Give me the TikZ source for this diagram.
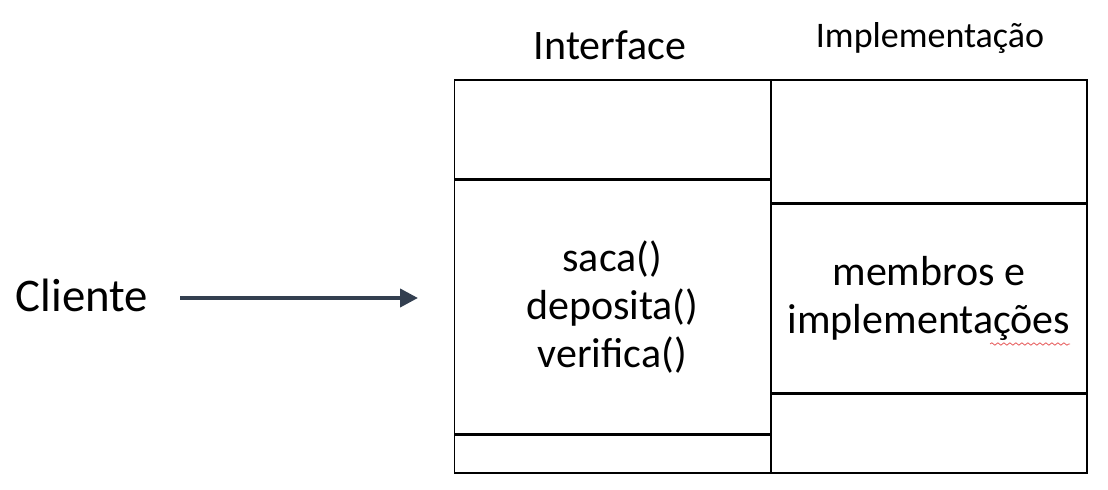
\documentclass[tikz,border=0pt]{standalone}
\usepackage{fontspec}
\setmainfont{Carlito}
\usetikzlibrary{arrows.meta,positioning,decorations.pathmorphing}
\definecolor{clienteArrow}{RGB}{51, 63, 80}
\definecolor{spellRed}{RGB}{230, 90, 90}

\begin{document}
\begin{tikzpicture}[x=0.5pt,y=-0.5pt,
  cell/.style={draw,line width=0.75pt,inner sep=0pt,align=center,font=\fontsize{21}{24}\selectfont},
  title/.style={font=\fontsize{21}{24}\selectfont},
  arrow/.style={-{Triangle[length=9pt,width=9pt]},line width=2pt,clienteArrow}
]
  \useasboundingbox (0,0) rectangle (1108,490);
  % interface column
  \node[cell,anchor=north west,minimum width=158pt,minimum height=49.5pt] (ifTop) at (453.5,79.5) {};
  \node[cell,below=0pt of ifTop,minimum width=158pt,minimum height=126.5pt] (ifMid) {saca()\\deposita()\\verifica()};
  \node[cell,below=0pt of ifMid,minimum width=158pt,minimum height=19pt] (ifBot) {};
  % implementation column
  \node[cell,anchor=north west,minimum width=157.75pt,minimum height=61.5pt] (imTop) at (770.5,79.5) {};
  \node[cell,below=0pt of imTop,minimum width=157.75pt,minimum height=94pt] (imMid) {membros e\\implementações};
  \node[cell,below=0pt of imMid,minimum width=157.75pt,minimum height=39.5pt] (imBot) {};
  \node[title] (interface) at (610,45) {Interface};
  \node[title,font=\fontsize{18}{21}\selectfont] (implementacao) at (930,38) {Implementação};
  \node[title,font=\fontsize{23.4}{26}\selectfont] (cliente) at (82,295) {Cliente};
  \coordinate (arrowEnd) at (418,298);
  \draw[arrow,shorten <=12.5pt] (cliente.east |- arrowEnd) -- (arrowEnd);
  \draw[spellRed,line width=0.4pt,decorate,decoration={snake,amplitude=0.6pt,segment length=3pt}] (990,344) -- (1070,344);
\end{tikzpicture}
\end{document}
